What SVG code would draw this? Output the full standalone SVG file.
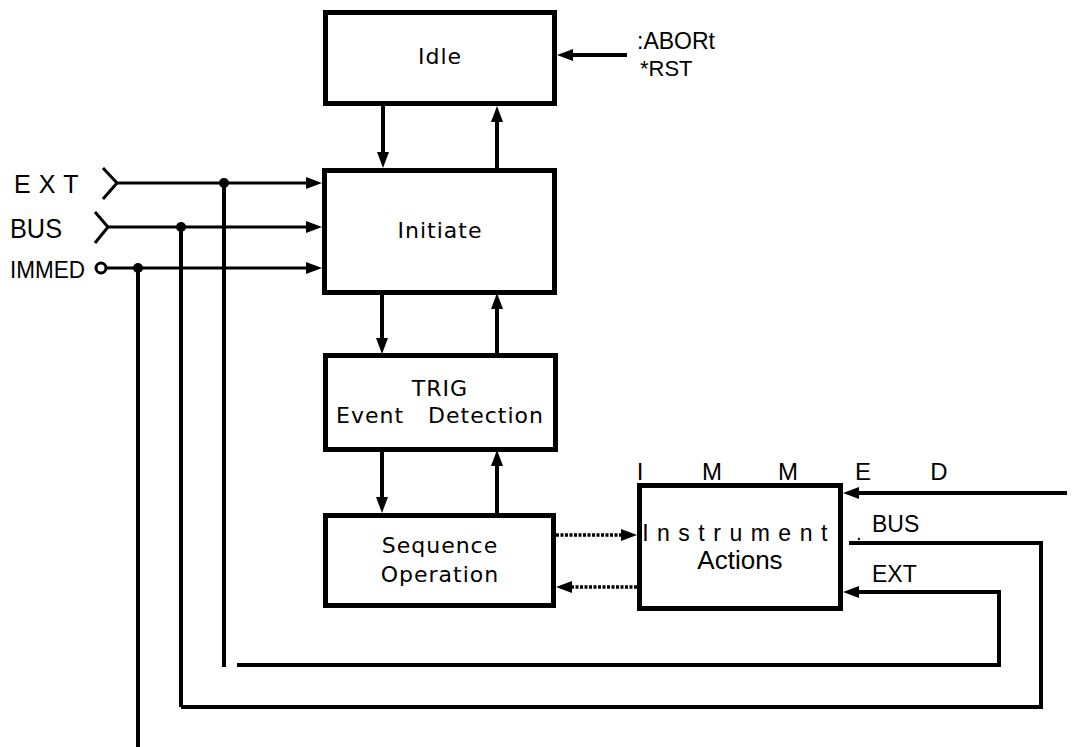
<svg xmlns="http://www.w3.org/2000/svg" width="1074" height="747" viewBox="0 0 1074 747">
<style>
.box{fill:#fff;stroke:#000;stroke-width:5}
.bl{font-family:"DejaVu Sans",sans-serif;font-size:22px;fill:#000;text-anchor:middle;letter-spacing:1px}
.lb{font-family:"Liberation Sans",Arial,sans-serif;fill:#000}
.c{fill:none;stroke:#000;stroke-width:4}
.t{fill:none;stroke:#000;stroke-width:3}
.d{fill:none;stroke:#000;stroke-width:3.5;stroke-dasharray:3 1.5}
</style>
<defs>
<marker id="ah" markerUnits="userSpaceOnUse" markerWidth="16" markerHeight="12" refX="0" refY="6" orient="auto">
<path d="M0,0 L16,6 L0,12 z" fill="#000"/>
</marker>
</defs>
<g id="idle"><rect class="box" x="325.5" y="12.5" width="229" height="91"/><text class="bl" x="440" y="64">Idle</text></g>
<g id="initiate"><rect class="box" x="324.5" y="170.5" width="230" height="122"/><text class="bl" x="440" y="238">Initiate</text></g>
<g id="trig"><rect class="box" x="325.5" y="355.5" width="230" height="94"/><text class="bl" x="440" y="396">TRIG</text><text class="bl" x="440" y="423" word-spacing="16">Event Detection</text></g>
<g id="sequence"><rect class="box" x="325.5" y="515.5" width="228" height="90"/><text class="bl" x="440" y="553">Sequence</text><text class="bl" x="440" y="582">Operation</text></g>
<g id="instrument"><rect class="box" x="639.5" y="485.5" width="201" height="123"/><text class="lb" x="739" y="541" font-size="23" text-anchor="middle" letter-spacing="8.5">Instrument</text><text class="lb" x="740" y="569" font-size="26" text-anchor="middle">Actions</text></g>
<g id="labels">
<text class="lb" x="14" y="193" font-size="25" letter-spacing="8">EXT</text>
<text class="lb" x="10" y="238" font-size="28" textLength="52" lengthAdjust="spacingAndGlyphs">BUS</text>
<text class="lb" x="10" y="278" font-size="24" textLength="75" lengthAdjust="spacingAndGlyphs">IMMED</text>
<text class="lb" x="637" y="49" font-size="23">:ABORt</text>
<text class="lb" x="640" y="76" font-size="22">*RST</text>
<g class="lb" font-size="24" text-anchor="middle"><text x="640" y="480">I</text><text x="712" y="480">M</text><text x="788" y="480">M</text><text x="863" y="480">E</text><text x="939" y="480">D</text></g>
<text class="lb" x="856" y="540" font-size="20">.</text>
<text class="lb" x="872" y="532" font-size="23">BUS</text>
<text class="lb" x="872" y="582" font-size="23">EXT</text>
</g>
<g id="connectors">
<line class="c" x1="383" y1="106" x2="383" y2="152" marker-end="url(#ah)"/>
<line class="c" x1="497" y1="168" x2="497" y2="122" marker-end="url(#ah)"/>
<line class="c" x1="382" y1="295" x2="382" y2="338" marker-end="url(#ah)"/>
<line class="c" x1="497" y1="353" x2="497" y2="309" marker-end="url(#ah)"/>
<line class="c" x1="382" y1="452" x2="382" y2="497" marker-end="url(#ah)"/>
<line class="c" x1="497" y1="513" x2="497" y2="466" marker-end="url(#ah)"/>
<line class="c" x1="627" y1="55" x2="573" y2="55" stroke-width="5" marker-end="url(#ah)"/>
<line class="d" x1="556" y1="535" x2="621" y2="535" marker-end="url(#ah)"/>
<line class="d" x1="637" y1="587" x2="572" y2="587" marker-end="url(#ah)"/>
<line class="c" x1="1067" y1="493" x2="859" y2="493" marker-end="url(#ah)"/>
<polyline class="t" points="103,168 117,183 103,199"/>
<polyline class="t" points="95,212 108,227 95,243"/>
<circle cx="101" cy="268" r="5" fill="#fff" stroke="#000" stroke-width="3"/>
<line class="t" x1="117" y1="183" x2="306" y2="183" marker-end="url(#ah)"/>
<line class="t" x1="108" y1="227" x2="306" y2="227" marker-end="url(#ah)"/>
<line class="t" x1="106" y1="268" x2="306" y2="268" marker-end="url(#ah)"/>
<circle cx="224" cy="183" r="5" fill="#000"/>
<circle cx="181" cy="227" r="5" fill="#000"/>
<circle cx="138" cy="268" r="5" fill="#000"/>
<line class="c" x1="224" y1="183" x2="224" y2="667"/>
<line class="c" x1="181" y1="227" x2="181" y2="707"/>
<line class="c" x1="138" y1="268" x2="138" y2="747"/>
<polyline class="c" points="237,665 999,665 999,592 859,592" marker-end="url(#ah)"/>
<polyline class="c" points="181,707 1041,707 1041,543 849,543"/>
</g>
</svg>
